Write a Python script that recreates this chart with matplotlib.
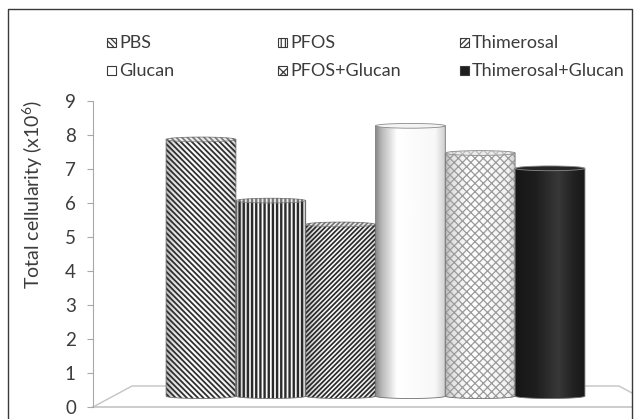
import numpy as np
import matplotlib
matplotlib.use("Agg")
import matplotlib.pyplot as plt
from matplotlib.patches import Polygon, Ellipse, Rectangle

# data (total cellularity, x10^6)
groups = ["PBS", "PFOS", "Thimerosal", "Glucan", "PFOS+Glucan", "Thimerosal+Glucan"]
values = [7.55, 5.75, 5.05, 7.95, 7.15, 6.7]
yticks = [0, 1, 2, 3, 4, 5, 6, 7, 8, 9]

# look of each cylinder: hatch, hatch colour, shading profile
hatches = ["\\" * 6, "||||", "/" * 7, "", "xxxx", ""]
hatch_cols = ["#303030", "#2a2a2a", "#2a2a2a", "none", "#9a9a9a", "none"]
hatch_lw = [1.3, 1.7, 1.25, 1.0, 0.9, 1.0]
leg_hatches = ["\\" * 6, "||||", "/" * 6, "", "xxx", ""]
shades = ["light", "light", "light", "white", "light", "black"]

plt.rcParams['font.family'] = ['Lato', 'DejaVu Sans']
plt.rcParams['mathtext.fontset'] = 'custom'
plt.rcParams['mathtext.rm'] = 'Lato'
txt_col = "#3c3c3c"

W, H = 636, 419
fig = plt.figure(figsize=(W / 100, H / 100), dpi=100)

# main axes, placed in pixels
x0, x1, y0, y9 = 93, 632, 407, 101
ax = fig.add_axes([x0 / W, (H - y0) / H, (x1 - x0) / W, (y0 - y9) / H])
px_bar = 69.8
cx0 = 201
ax.set_xlim((x0 - cx0) / px_bar, (x1 - cx0) / px_bar)
ax.set_ylim(0, 9)

base = 0.32   # bars stand half way back on the 3d floor
eh = 0.14     # ellipse height of the cylinder caps
bw = 1.0

def profile(kind, u):
    if kind == "white":
        return np.interp(u, [0, 0.08, 0.3, 0.85, 1], [0.55, 0.72, 1.0, 0.97, 0.8])
    if kind == "black":
        return np.interp(u, [0, 0.3, 0.62, 0.85, 1], [0.09, 0.12, 0.22, 0.13, 0.1])
    return np.interp(u, [0, 0.1, 0.35, 0.9, 1], [0.72, 0.88, 1.0, 0.95, 0.8])

def hatched(p, lw):
    if hasattr(p, "set_hatch_linewidth"):
        p.set_hatch_linewidth(lw)
    return p

u = np.linspace(0, 1, 200)
for i, (g, v) in enumerate(zip(groups, values)):
    plt.rcParams['hatch.linewidth'] = hatch_lw[i]
    xl, xr = i - bw / 2, i + bw / 2
    t = np.linspace(np.pi, 2 * np.pi, 60)
    arc = np.column_stack([i + bw / 2 * np.cos(t), base + eh / 2 * np.sin(t)])
    verts = np.vstack([arc, [[xr, base + v], [xl, base + v]]])
    z = 2 + i * 0.01

    body = Polygon(verts, closed=True, facecolor="none", edgecolor="none",
                   transform=ax.transData)
    ax.add_patch(body)
    img = ax.imshow(profile(shades[i], u)[np.newaxis, :], cmap="gray", vmin=0, vmax=1,
                    extent=[xl, xr, base - eh, base + v], aspect="auto",
                    interpolation="bicubic", zorder=z)
    img.set_clip_path(body)
    if hatches[i]:
        ax.add_patch(hatched(Polygon(verts, closed=True, facecolor="none",
                                     edgecolor=hatch_cols[i], hatch=hatches[i], lw=0,
                                     zorder=z + 0.001), hatch_lw[i]))
    ax.add_patch(Polygon(verts, closed=True, facecolor="none", edgecolor="#707070",
                         lw=0.6, zorder=z + 0.002))

    # top cap
    capc = {"white": "#f4f4f4", "black": "#262626", "light": "#ededed"}[shades[i]]
    ax.add_patch(Ellipse((i, base + v), bw, eh, facecolor=capc, edgecolor="#8a8a8a",
                         lw=0.6, zorder=z + 0.003))
    if hatches[i]:
        ax.add_patch(hatched(Ellipse((i, base + v), bw, eh, facecolor="none",
                                     edgecolor=hatch_cols[i], hatch=hatches[i], lw=0,
                                     alpha=0.6, zorder=z + 0.004), hatch_lw[i]))

# 3d floor outline
fl = "#c4c4c4"
xa, xb = ax.get_xlim()
back = (407 - 386) / 34.0
bl, br = (132 - cx0) / px_bar, (619 - cx0) / px_bar
ax.plot([xa, xb], [0, 0], color=fl, lw=1.2, clip_on=False, zorder=1)
ax.plot([xa, bl, br, br + (bl - xa)], [0, back, back, 0], color=fl, lw=1.0, zorder=1)

for s in ["top", "right", "bottom"]:
    ax.spines[s].set_visible(False)
ax.spines["left"].set_color("#a8a8a8")
ax.set_xticks([])
ax.set_yticks(yticks)
ax.tick_params(axis="y", length=4.3, width=0.8, color="#a8a8a8", pad=8,
               labelsize=13.5, labelcolor=txt_col)
ax.set_ylabel("Total cellularity (x10$^{6}$)", fontsize=14, color=txt_col)
ax.yaxis.set_label_coords((45 - x0) / (x1 - x0), (y0 - 194) / (y0 - y9))

# overlay in pixel units for frame and legend
ov = fig.add_axes([0, 0, 1, 1], zorder=5)
ov.set_xlim(0, W)
ov.set_ylim(H, 0)
ov.axis("off")
ov.plot([8, 8, 632, 632], [H + 5, 9, 9, H + 5], color="#3a3a3a", lw=1.0, clip_on=False)

plt.rcParams['hatch.linewidth'] = 0.9
leg_x = [107, 278, 460]
leg_y = [43, 71]
for i, g in enumerate(groups):
    lx, ly = leg_x[i % 3], leg_y[i // 3]
    s = 9
    fc = {"white": "white", "black": "#1e1e1e", "light": "white"}[shades[i]]
    ov.add_patch(Rectangle((lx, ly - s / 2), s, s, facecolor=fc, edgecolor="#3a3a3a", lw=0.8))
    if leg_hatches[i]:
        ov.add_patch(hatched(Rectangle((lx, ly - s / 2), s, s, facecolor="none",
                                       edgecolor="#3a3a3a", hatch=leg_hatches[i], lw=0), 0.9))
    ov.text(lx + s + 3, ly, g, fontsize=13, color=txt_col, va="center", ha="left")

fig.savefig("out.png", dpi=100)
